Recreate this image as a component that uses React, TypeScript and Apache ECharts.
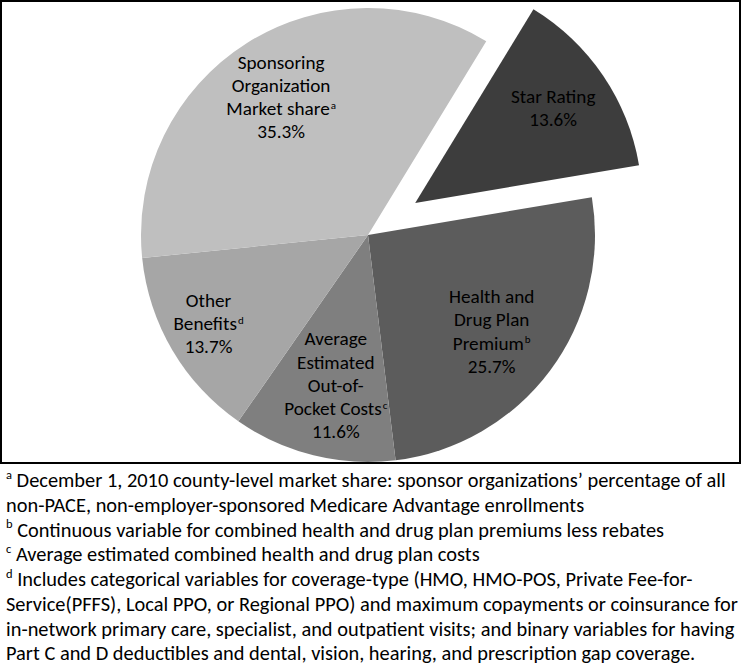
import React, { useEffect, useRef } from 'react';
import * as echarts from 'echarts';

// ---- data ----
const categories = [
  'Star Rating',
  'Health and\nDrug Plan\nPremium',
  'Average\nEstimated\nOut-of-\nPocket Costs',
  'Other\nBenefits',
  'Sponsoring\nOrganization\nMarket share',
];
const noteMarks = ['', 'b', 'c', 'd', 'a'];
const shares = [13.6, 25.7, 11.6, 13.7, 35.3];
const sliceColors = ['#3d3d3d', '#5c5c5c', '#7f7f7f', '#a6a6a6', '#bfbfbf'];
const explodedSlice = 'Star Rating';

const footnoteMarks = ['a', '', 'b', 'c', 'd', '', '', ''];
const footnoteLines = [
  'December 1, 2010 county-level market share: sponsor organizations\u2019 percentage of all',
  'non-PACE, non-employer-sponsored Medicare Advantage enrollments',
  'Continuous variable for combined health and drug plan premiums less rebates',
  'Average estimated combined health and drug plan costs',
  'Includes categorical variables for coverage-type (HMO, HMO-POS, Private Fee-for-',
  'Service(PFFS), Local PPO, or Regional PPO) and maximum copayments or coinsurance for',
  'in-network primary care, specialist, and outpatient visits; and binary variables for having',
  'Part C and D deductibles and dental, vision, hearing, and prescription gap coverage.',
];

// small label nudges (px) per slice, to mimic the original placement
const labelNudges: [number, number][] = [
  [3, -4],
  [-7, -1],
  [7, -8],
  [-19, 6],
  [0, 0],
];

const FONT = 'Carlito, Lato, "Liberation Sans", sans-serif';

export default function App() {
  const ref = useRef<HTMLDivElement>(null);

  useEffect(() => {
    if (!ref.current) return;
    const chart = echarts.init(ref.current, undefined, { renderer: 'svg' });

    const pieData = categories.map((name, i) => ({
      name,
      value: shares[i],
      selected: name === explodedSlice,
      itemStyle: { color: sliceColors[i] },
    }));
    const labelData = categories.map((name, i) => ({
      name,
      value: shares[i],
      selected: name === explodedSlice,
    }));

    const footText = footnoteLines
      .map((t, i) => (footnoteMarks[i] ? `{s|${footnoteMarks[i]}} ${t}` : t))
      .join('\n');

    const common = {
      type: 'pie',
      center: [368, 235],
      startAngle: 58.6,
      clockwise: true,
      selectedMode: 'single',
      selectedOffset: 57,
      avoidLabelOverlap: false,
      silent: true,
      emphasis: { disabled: true },
      labelLine: { show: false },
    };

    chart.setOption({
      animation: false,
      backgroundColor: '#ffffff',
      graphic: [
        {
          type: 'rect',
          shape: { x: 1, y: 1, width: 739, height: 462 },
          style: { fill: 'none', stroke: '#000', lineWidth: 2 },
          z: 10,
        },
        {
          type: 'text',
          left: 6,
          top: 468,
          style: {
            text: footText,
            fontFamily: FONT,
            fontSize: 20.4,
            lineHeight: 24.7,
            fill: '#000',
            rich: {
              s: { fontSize: 12.5, fontFamily: FONT, verticalAlign: 'top', lineHeight: 15, fill: '#000' },
            },
          },
        },
      ],
      series: [
        {
          ...common,
          radius: [0, 227],
          label: { show: false },
          data: pieData,
        },
        {
          ...common,
          radius: [100, 220],
          itemStyle: { color: 'rgba(0,0,0,0)' },
          labelLayout: (p: any) => ({ dx: labelNudges[p.dataIndex][0], dy: labelNudges[p.dataIndex][1] }),
          label: {
            show: true,
            position: 'inside',
            color: '#000',
            fontFamily: FONT,
            fontSize: 19.2,
            lineHeight: 23.2,
            align: 'center',
            formatter: (p: any) => {
              const mark = noteMarks[p.dataIndex];
              return `${p.name}${mark ? `{sup|${mark}}` : ''}\n${Number(p.value).toFixed(1)}%`;
            },
            rich: {
              sup: {
                fontSize: 11,
                fontFamily: FONT,
                verticalAlign: 'top',
                lineHeight: 12,
                padding: [3, 0, 0, 1],
                color: '#000',
              },
            },
          },
          data: labelData,
        },
      ],
    });

    return () => chart.dispose();
  }, []);

  return (
    <div
      ref={ref}
      style={{ position: 'fixed', left: 0, top: 0, width: 742, height: 665, background: '#fff' }}
    />
  );
}
